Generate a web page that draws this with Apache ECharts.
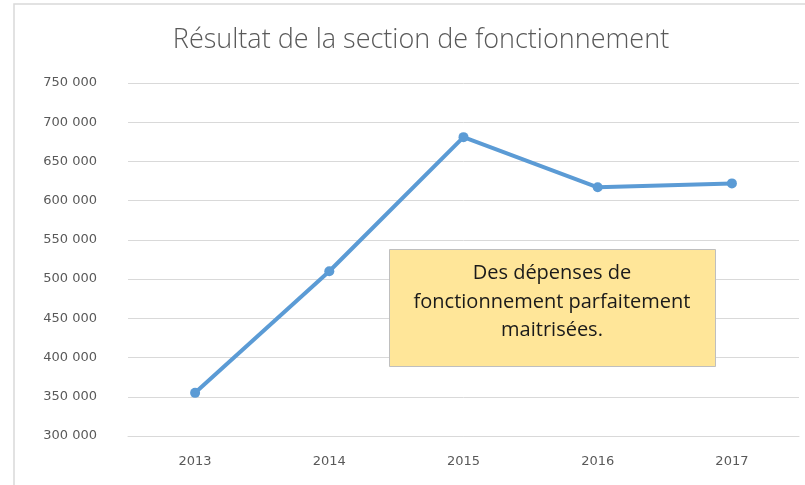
<!DOCTYPE html>
<html>
<head>
<meta charset="utf-8">
<script src="https://cdn.jsdelivr.net/npm/echarts@6/dist/echarts.min.js"></script>
<style>html,body{margin:0;padding:0;background:#fff}#c{width:805px;height:485px}</style>
</head>
<body>
<div id="c"></div>
<script>
const categories = ['2013', '2014', '2015', '2016', '2017'];
const resultat = [355000, 510000, 681000, 617000, 622000];
const titleText = 'Résultat de la section de fonctionnement';
const noteText = 'Des dépenses de\nfonctionnement parfaitement\nmaitrisées.';

function fmt(v) {
  return String(v).replace(/\B(?=(\d{3})+(?!\d))/g, ' ');
}

const chart = echarts.init(document.getElementById('c'));
chart.setOption({
  animation: false,
  backgroundColor: '#fff',
  title: {
    text: titleText,
    left: 416, top: 22, textAlign: 'center',
    textStyle: { fontFamily: 'Open Sans', fontWeight: 300, fontSize: 27, color: '#595959' }
  },
  grid: { left: 128, right: 6, top: 83, bottom: 49, containLabel: false },
  xAxis: {
    type: 'category',
    data: categories,
    boundaryGap: true,
    axisLine: { lineStyle: { color: '#d9d9d9', width: 1 } },
    axisTick: { show: false },
    axisLabel: { color: '#595959', fontSize: 13, fontFamily: 'DejaVu Sans', margin: 19 }
  },
  yAxis: {
    type: 'value',
    min: 300000, max: 750000, interval: 50000,
    axisLine: { show: false },
    axisTick: { show: false },
    splitLine: { lineStyle: { color: '#d9d9d9', width: 1 } },
    axisLabel: { color: '#595959', fontSize: 13, fontFamily: 'DejaVu Sans', margin: 31, formatter: fmt }
  },
  series: [{
    type: 'line',
    data: resultat,
    symbol: 'circle',
    symbolSize: 10,
    lineStyle: { color: '#5B9BD5', width: 4 },
    itemStyle: { color: '#5B9BD5' }
  }],
  graphic: [
    {
      type: 'rect', silent: true,
      shape: { x: 14, y: 4, width: 800, height: 490 },
      style: { fill: 'none', stroke: '#d9d9d9', lineWidth: 1.5 },
      z: 0
    },
    {
      type: 'rect', silent: true,
      shape: { x: 389.5, y: 249.5, width: 326, height: 117 },
      style: { fill: '#FFE699', stroke: '#bfbfbf', lineWidth: 1 },
      z: 10
    },
    {
      type: 'text', silent: true,
      x: 552, y: 302,
      style: {
        text: noteText, fill: '#1a1a1a', fontSize: 20, fontFamily: 'Open Sans',
        align: 'center', verticalAlign: 'middle', lineHeight: 28.5
      },
      z: 11
    }
  ]
});
</script>
</body>
</html>
